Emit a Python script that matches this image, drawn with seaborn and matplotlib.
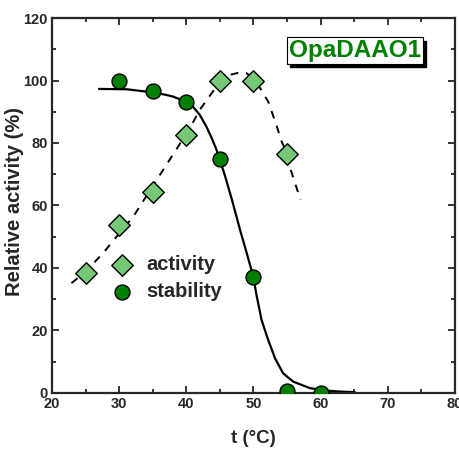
import matplotlib
matplotlib.use("Agg")
import matplotlib.pyplot as plt
import matplotlib.transforms as mtransforms
import seaborn as sns

# measured points
temp_activity = [25, 30, 35, 40, 45, 50, 55]
activity = [38.5, 53.7, 64.2, 82.6, 100.0, 100.0, 76.5]

temp_stability = [30, 35, 40, 45, 50, 55, 60]
stability = [100.0, 96.5, 93.0, 74.8, 37.0, 0.5, 0.0]

# fitted curves
activity_fit_t = [22.9, 25.0, 27.6, 30.0, 32.1, 35.6, 39.1, 40.0, 42.0, 44.3, 45.2,
                  46.5, 47.8, 49.0, 50.2, 51.0, 52.2, 53.5, 54.2, 55.1, 55.4, 56.2, 57.0]
activity_fit = [35.1, 38.8, 44.7, 51.0, 56.4, 68.2, 79.9, 82.6, 90.6, 97.5, 100.0,
                101.8, 102.5, 102.3, 100.2, 97.5, 93.2, 85.2, 80.4, 76.4, 72.4, 67.1, 61.8]

stability_fit_t = [27.0, 31.1, 35.0, 37.0, 38.1, 39.5, 40.3, 41.0, 42.0, 43.0, 43.8,
                   44.5, 45.0, 45.8, 46.8, 48.0, 49.0, 50.0, 50.4, 50.7, 51.2, 52.1,
                   53.2, 54.4, 55.9, 58.4, 60.9, 62.9, 65.1]
stability_fit = [97.3, 97.2, 96.2, 95.4, 94.8, 93.6, 92.8, 91.6, 89.0, 85.2, 81.5,
                 77.8, 74.6, 69.2, 61.8, 52.2, 44.7, 37.0, 31.9, 28.7, 23.4, 17.5,
                 11.1, 6.3, 3.6, 1.5, 0.7, 0.4, 0.2]

sns.set_style("ticks")
plt.rcParams['font.family'] = ['Liberation Sans', 'DejaVu Sans']
plt.rcParams['font.weight'] = 'bold'

fig = plt.figure(figsize=(4.6, 4.51), dpi=100)
ax = fig.add_axes([0.113, 0.129, 0.876, 0.831])

sns.lineplot(x=stability_fit_t, y=stability_fit, color='black', linewidth=1.6,
             sort=False, ax=ax)
sns.lineplot(x=activity_fit_t, y=activity_fit, color='black', linewidth=1.4,
             linestyle=(0, (4, 4)), sort=False, ax=ax)

sns.scatterplot(x=temp_activity, y=activity, marker='D', s=120, color='#76C878',
                edgecolor='black', linewidth=1.0, zorder=3, label='activity', ax=ax)
sns.scatterplot(x=temp_stability, y=stability, marker='o', s=115, color='#007F00',
                edgecolor='black', linewidth=1.0, zorder=3, label='stability', ax=ax)

ax.set_xlim(20, 80)
ax.set_ylim(0, 120)
ax.set_xticks(range(20, 81, 10))
ax.set_yticks(range(0, 121, 20))
ax.set_xticks(range(25, 80, 10), minor=True)
ax.set_yticks(range(10, 120, 20), minor=True)
ax.tick_params(which='both', direction='in', top=True, right=True, width=1.3,
               labelsize=10.5, pad=3)
ax.tick_params(which='major', length=5)
ax.tick_params(which='minor', length=3)
for lab in ax.get_xticklabels() + ax.get_yticklabels():
    lab.set_fontweight('bold')
for sp in ax.spines.values():
    sp.set_linewidth(1.6)

ax.set_xlabel('t (°C)', fontsize=13.5, fontweight='bold', labelpad=14)
ax.set_ylabel('Relative activity (%)', fontsize=14.5, fontweight='bold')
ax.yaxis.set_label_coords(-0.07, 0.51)

ax.legend(loc='upper left', bbox_to_anchor=(0.09, 0.405), frameon=False,
          fontsize=14.5, handletextpad=0.2, labelspacing=0.4, borderpad=0.2)

# label box with drop shadow
shadow = mtransforms.offset_copy(ax.transData, fig=fig, x=3.5, y=-3.5, units='dots')
ax.text(65.1, 109.6, 'OpaDAAO1', fontsize=17.5, fontweight='bold', color='black',
        ha='center', va='center', transform=shadow,
        bbox=dict(boxstyle='square,pad=0.08', facecolor='black', edgecolor='black'))
ax.text(65.1, 109.6, 'OpaDAAO1', fontsize=17.5, fontweight='bold', color='#008000',
        ha='center', va='center',
        bbox=dict(boxstyle='square,pad=0.08', facecolor='white', edgecolor='black',
                  linewidth=0.8))

fig.savefig('out.png', dpi=100)
